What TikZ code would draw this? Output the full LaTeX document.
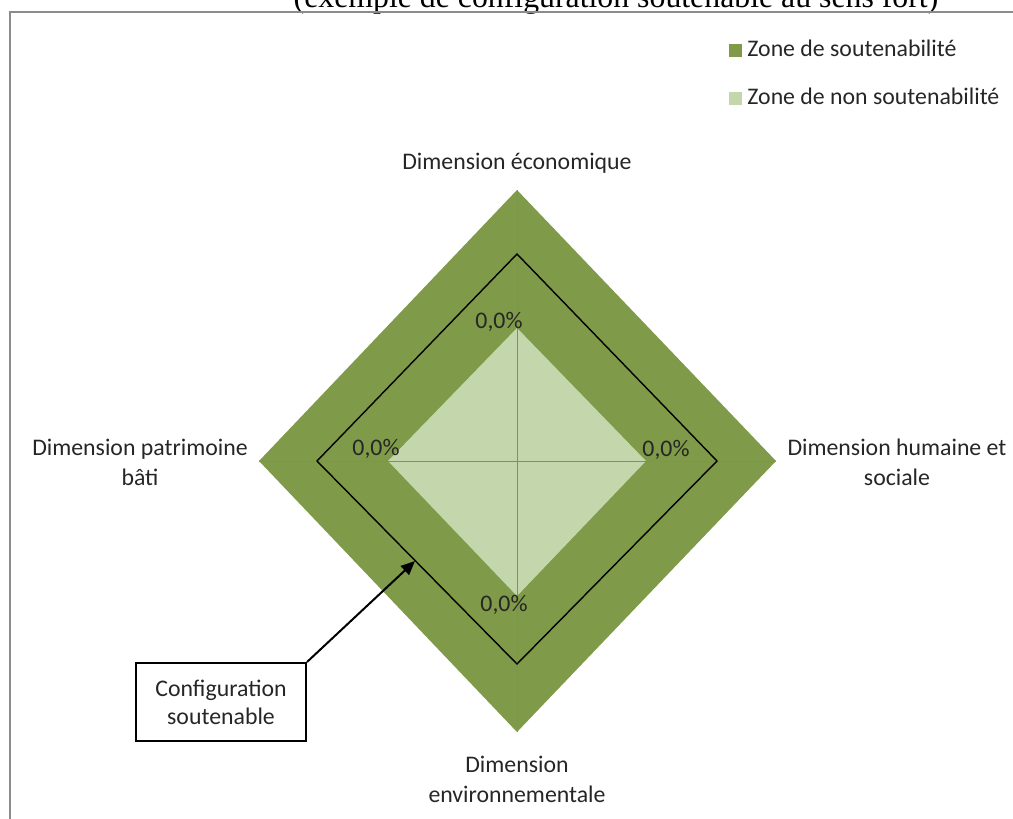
\documentclass[tikz,border=0pt]{standalone}
\usepackage{fontspec}
\setmainfont{Carlito}
\newfontfamily\titlefont{Liberation Serif}
\usetikzlibrary{arrows.meta,positioning}
\definecolor{zonedark}{RGB}{127,154,72}
\definecolor{zonelight}{RGB}{196,214,172}
\definecolor{axisgray}{RGB}{134,134,134}
\definecolor{framegray}{RGB}{140,140,140}

\begin{document}
\begin{tikzpicture}[x=0.5pt,y=-0.5pt,
  dimlabel/.style={align=center,font=\fontsize{11.9}{15}\selectfont,text=black!85},
  valuelabel/.style={font=\fontsize{11.9}{15}\selectfont,text=black!85,inner sep=0pt},
  legendbox/.style={minimum size=6.5pt,inner sep=0pt},
  legendtext/.style={font=\fontsize{11.9}{15}\selectfont,text=black!85,inner sep=0pt,anchor=west}]
  \useasboundingbox (0,0) rectangle (1013,819);
  \begin{scope}
    \clip (0,0) rectangle (1013,819);
    \node[font=\titlefont\fontsize{15.9}{19}\selectfont,anchor=base,inner sep=0pt] at (616,7) (Title)
      {(exemple de configuration soutenable au sens fort)};
  \end{scope}
  \draw[framegray,line width=0.75pt] (1013,12) -- (10,12) -- (10,819);

  % zones
  \coordinate (C) at (517,461);
  \fill[zonedark] (517,190) -- (776,461) -- (517,732) -- (259,461) -- cycle;
  \fill[zonelight] (517,328) -- (646,461) -- (517,596) -- (388,461) -- cycle;
  \draw[axisgray,line width=0.5pt] (259,461) -- (776,461);
  \draw[axisgray,line width=0.5pt] (517,190) -- (517,732);
  \draw[black,line width=0.7pt] (517,254) -- (717,461) -- (517,664) -- (317,461) -- cycle;

  \node[valuelabel] at (499,322) (ValTop) {0,0\%};
  \node[valuelabel] at (376,449) (ValLeft) {0,0\%};
  \node[valuelabel] at (666,450) (ValRight) {0,0\%};
  \node[valuelabel] at (504,605) (ValBottom) {0,0\%};

  \node[dimlabel] at (517,163) (Eco) {Dimension économique};
  \node[dimlabel] at (140,462) (Patri) {Dimension patrimoine\\bâti};
  \node[dimlabel] at (897,462) (Social) {Dimension humaine et\\sociale};
  \node[dimlabel] at (517,779) (Env) {Dimension\\environnementale};

  % legend
  \node[legendbox,fill=zonedark] at (735,50) (LegDark) {};
  \node[legendtext] at (747,48) (LegDarkText) {Zone de soutenabilité};
  \node[legendbox,fill=zonelight] at (735,98) (LegLight) {};
  \node[legendtext] at (747,96) (LegLightText) {Zone de non soutenabilité};

  % annotation
  \coordinate (Target) at (415,561);
  \node[draw,line width=1pt,align=center,minimum width=85pt,minimum height=39pt,
    font=\fontsize{11.9}{14}\selectfont,text=black!85] at (221,702) (Config)
    {Configuration\\soutenable};
  \draw[-{Triangle[length=7pt,width=6pt]},line width=1pt] (Config.north east) -- (Target);
\end{tikzpicture}
\end{document}
